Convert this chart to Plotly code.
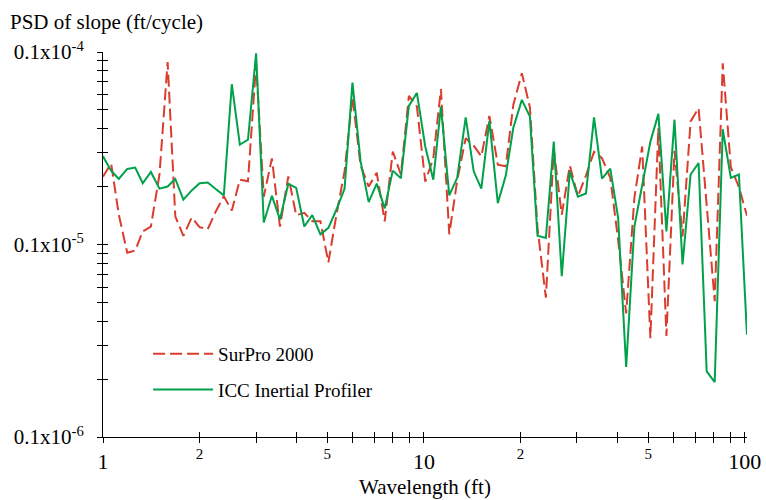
import plotly.graph_objects as go

# wavelength (ft), roughly 1/12-octave steps
wavelength_ft = [1.00, 1.06, 1.12, 1.19, 1.26, 1.33, 1.41, 1.50, 1.59, 1.68, 1.78, 1.89,
                 2.00, 2.12, 2.24, 2.38, 2.52, 2.67, 2.83, 3.00, 3.17, 3.36, 3.56, 3.78,
                 4.00, 4.24, 4.49, 4.76, 5.04, 5.34, 5.66, 5.99, 6.35, 6.73, 7.13, 7.55,
                 8.00, 8.48, 8.98, 9.51, 10.1, 10.7, 11.3, 12.0, 12.7, 13.5, 14.3, 15.1,
                 16.0, 17.0, 18.0, 19.0, 20.2, 21.4, 22.6, 24.0, 25.4, 26.9, 28.5, 30.2,
                 32.0, 33.9, 35.9, 38.1, 40.3, 42.7, 45.3, 47.9, 50.8, 53.8, 57.0, 60.4,
                 64.0, 67.8, 71.8, 76.1, 80.6, 85.4, 90.5, 95.9, 101.6]

# PSD of slope, in units of 1e-5 ft/cycle
surpro_e5 = [2.25, 2.64, 1.43, 0.906, 0.931, 1.17, 1.24, 2.31, 8.87, 1.40, 1.11, 1.38,
             1.23, 1.20, 1.47, 1.78, 1.50, 2.17, 2.13, 8.67, 1.77, 2.80, 1.24, 2.26,
             1.42, 1.46, 1.32, 1.32, 0.807, 1.43, 2.40, 5.85, 2.57, 2.00, 2.36, 1.32,
             3.04, 2.31, 5.92, 5.21, 2.12, 2.81, 6.41, 1.13, 2.15, 3.57, 3.26, 2.87,
             4.66, 2.60, 2.55, 5.31, 7.76, 5.16, 1.22, 0.530, 3.11, 1.43, 2.57, 1.78,
             2.28, 3.03, 2.81, 2.22, 1.06, 0.439, 1.75, 3.23, 0.326, 4.03, 0.335, 3.07,
             1.10, 4.36, 5.11, 1.61, 0.508, 8.74, 2.52, 1.99, 1.41]

icc_e5 = [2.87, 2.42, 2.19, 2.47, 2.51, 2.08, 2.38, 1.95, 2.00, 2.19, 1.71, 1.91,
          2.08, 2.10, 1.95, 1.80, 6.80, 3.30, 3.50, 9.85, 1.30, 1.79, 1.35, 2.07,
          1.97, 1.24, 1.42, 1.13, 1.22, 1.52, 1.95, 6.93, 2.70, 1.66, 2.07, 1.54,
          2.42, 2.21, 5.25, 6.13, 3.23, 2.17, 5.21, 1.80, 2.22, 4.57, 2.40, 1.95,
          4.39, 1.64, 2.28, 4.04, 5.64, 4.62, 1.11, 1.08, 3.43, 0.685, 2.40, 1.77,
          1.84, 4.57, 2.20, 2.48, 1.38, 0.231, 1.24, 2.07, 3.42, 4.77, 1.17, 4.45,
          0.787, 2.31, 2.65, 0.219, 0.193, 3.97, 2.22, 2.31, 0.340]

x_tickvals = [1, 2, 3, 4, 5, 6, 7, 8, 9, 10, 20, 30, 40, 50, 60, 70, 80, 90, 100]
x_major_text = ["1", "", "", "", "", "", "", "", "",
                "10", "", "", "", "", "", "", "", "", "100"]
x_minor_text = ["", "2", "", "", "5", "", "", "", "",
                "", "2", "", "", "5", "", "", "", "", ""]
y_tickvals = [1e-6, 2e-6, 3e-6, 4e-6, 5e-6, 6e-6, 7e-6, 8e-6, 9e-6,
              1e-5, 2e-5, 3e-5, 4e-5, 5e-5, 6e-5, 7e-5, 8e-5, 9e-5, 1e-4]
y_ticktext = ["0.1x10<sup>-6</sup>"] + [""] * 8 + ["0.1x10<sup>-5</sup>"] + [""] * 8 + ["0.1x10<sup>-4</sup>"]

RED = "#DA3D2E"
GREEN = "#00A14B"
FONT = "Liberation Serif"

fig = go.Figure()
fig.add_trace(go.Scatter(x=wavelength_ft, y=[v * 1e-5 for v in surpro_e5],
                         mode="lines", name="SurPro 2000", legendgroup="a",
                         line=dict(color=RED, width=2, dash="12px,5px")))
fig.add_trace(go.Scatter(x=wavelength_ft, y=[v * 1e-5 for v in icc_e5],
                         mode="lines", name="ICC Inertial Profiler", legendgroup="b",
                         line=dict(color=GREEN, width=2)))
# empty trace so the overlay axes (inner half of the crossing ticks) get drawn
fig.add_trace(go.Scatter(x=[], y=[], xaxis="x2", yaxis="y2", showlegend=False,
                         hoverinfo="skip"))

xr = [0, 2.007]
yr = [-6, -4]
common = dict(type="log", showgrid=False, zeroline=False, ticklen=5, tickwidth=1,
              tickcolor="black", automargin=False, tickmode="array")
fig.update_layout(
    width=766, height=500,
    paper_bgcolor="white", plot_bgcolor="white",
    margin=dict(l=103, r=19, t=52, b=63),
    font=dict(family=FONT, color="black", size=20),
    xaxis=dict(**common, range=xr, ticks="outside", showline=True, linecolor="black",
               linewidth=1, tickvals=x_tickvals, ticktext=x_major_text,
               tickfont=dict(family=FONT, size=22),
               title=dict(text="Wavelength (ft)", standoff=5,
                          font=dict(family=FONT, size=21))),
    yaxis=dict(**common, range=yr, ticks="outside", showline=True, linecolor="black",
               linewidth=1, tickvals=y_tickvals, ticktext=y_ticktext,
               ticklabelstandoff=9, tickfont=dict(family=FONT, size=21)),
    xaxis2=dict(**common, range=xr, overlaying="x", anchor="y", side="bottom",
                ticks="inside", tickvals=x_tickvals, ticktext=x_minor_text,
                ticklabelstandoff=6, tickfont=dict(family=FONT, size=15),
                showline=False),
    yaxis2=dict(**common, range=yr, overlaying="y", anchor="x", side="left",
                ticks="inside", tickvals=y_tickvals,
                showticklabels=False, showline=False),
    legend=dict(x=0.07, y=0.265, xanchor="left", yanchor="top", bgcolor="rgba(0,0,0,0)",
                font=dict(family=FONT, size=19), traceorder="grouped",
                tracegroupgap=8, itemwidth=60),
    showlegend=True,
    annotations=[dict(text="PSD of slope (ft/cycle)", xref="paper", yref="paper",
                      x=(8 - 103) / 644, y=1 + 30 / 385, xanchor="left", yanchor="middle",
                      showarrow=False, font=dict(family=FONT, size=21, color="black"))],
)

# drop the browser's default page margin so the figure sits at the window origin
fig.write_html("out.html", config={"displayModeBar": False},
               post_script="document.body.style.margin='0';")
